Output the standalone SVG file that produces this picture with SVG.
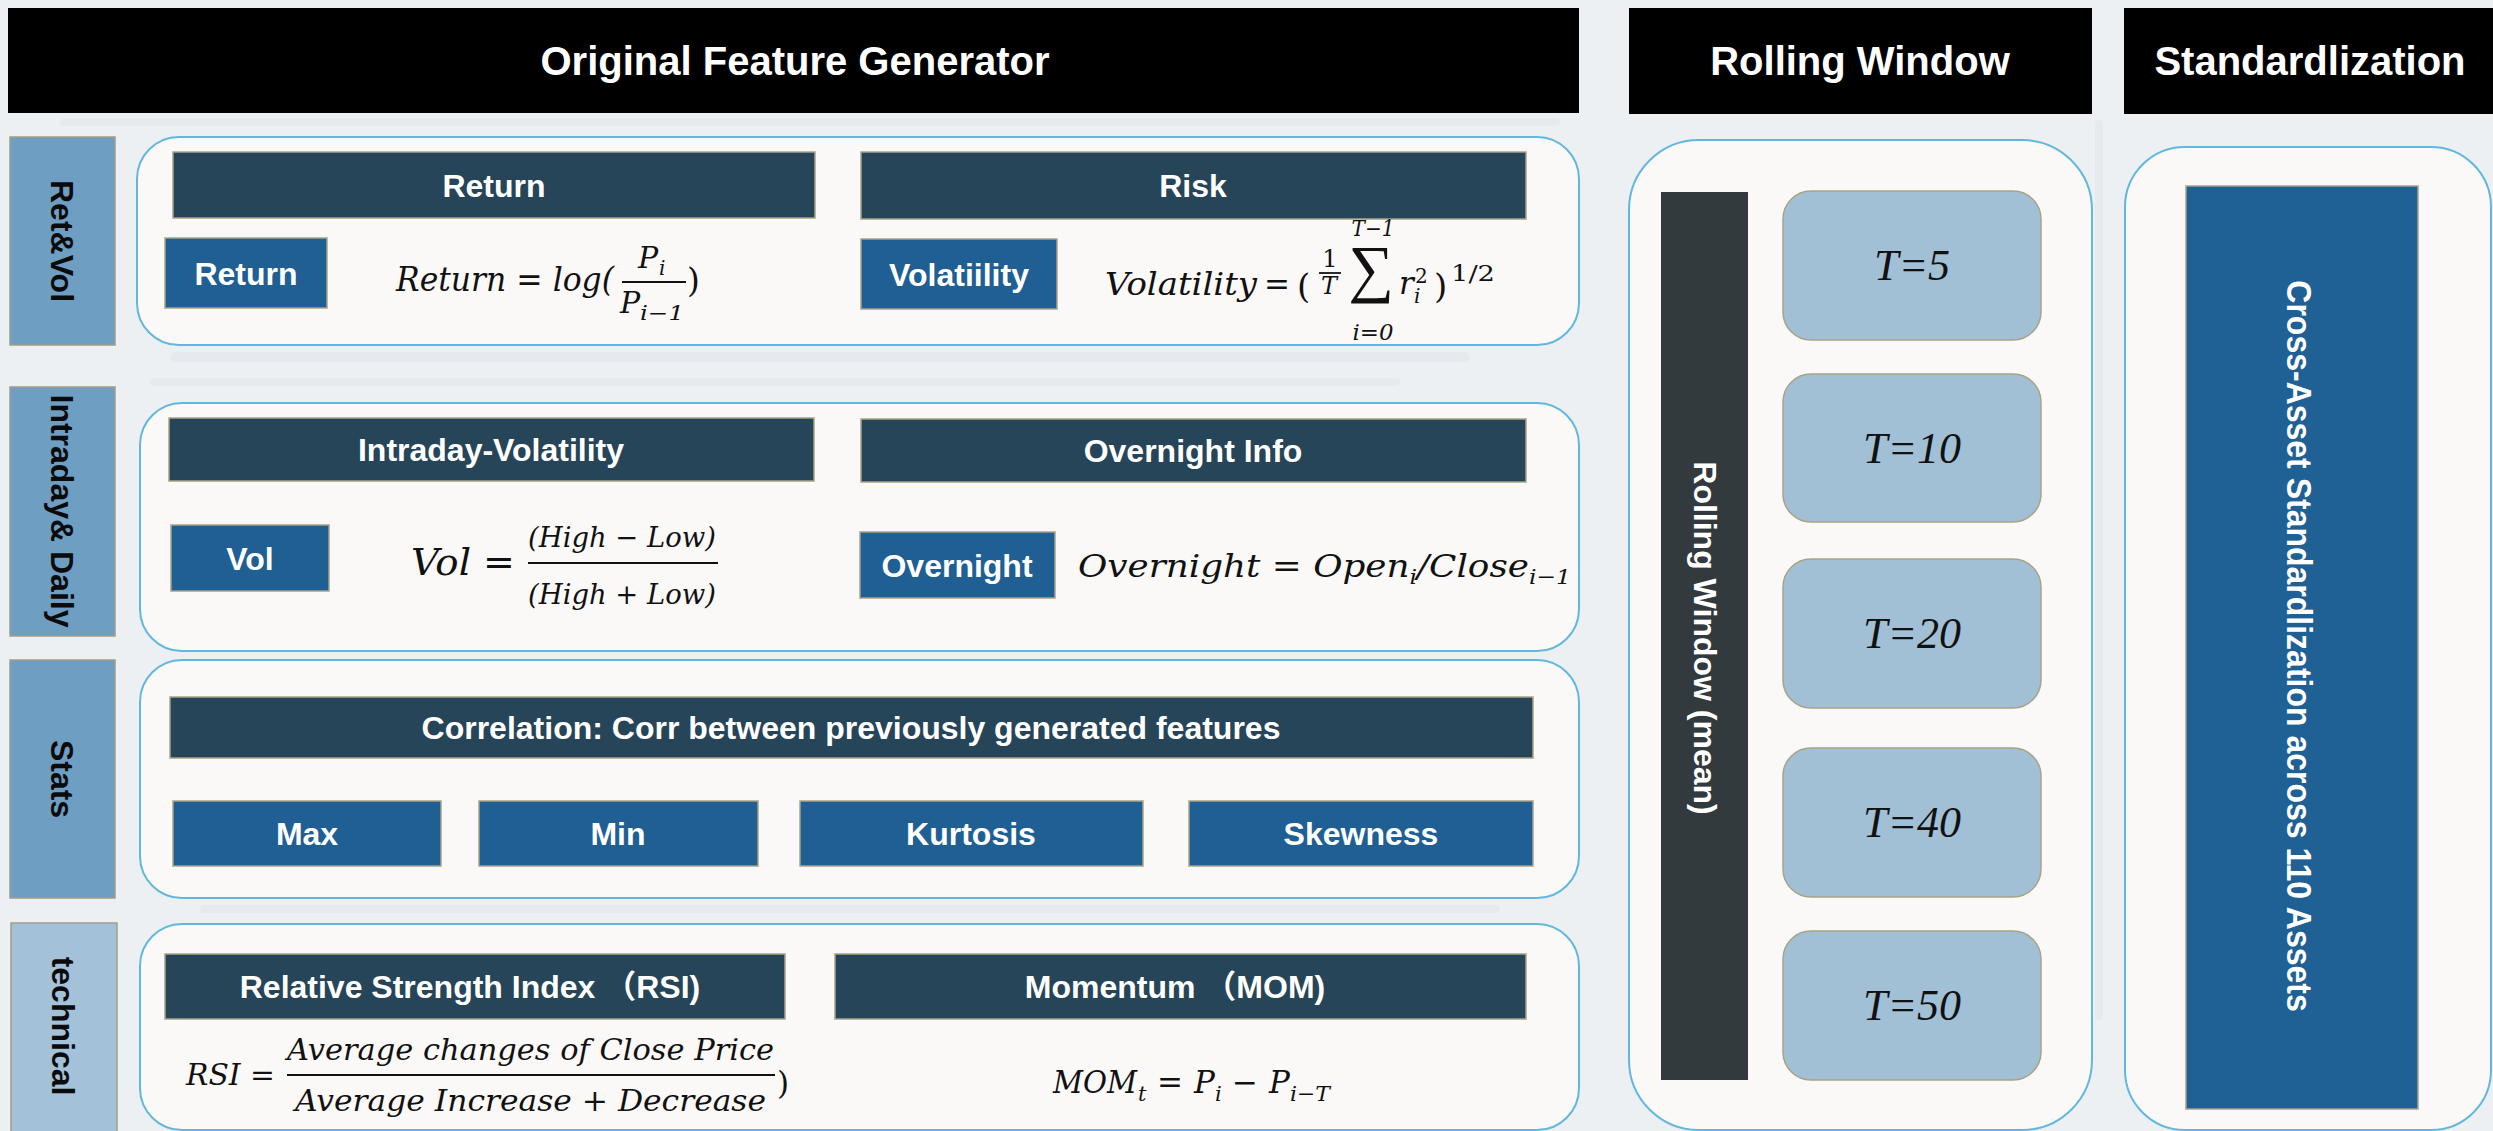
<svg xmlns="http://www.w3.org/2000/svg" width="2493" height="1131" viewBox="0 0 2493 1131">
<style>
.bg{fill:#EDF0F3}
.title{fill:#000}
.tt{font-family:"Liberation Sans",Arial,sans-serif;font-weight:bold;font-size:40px;fill:#fff;text-anchor:middle}
.cont{fill:#FBF9F8;stroke:#62B8DC;stroke-width:2}
.side{fill:#6E9EC2;stroke:#A39C88;stroke-width:1.5}
.side2{fill:#A3C1D8;stroke:#A39C88;stroke-width:1.5}
.st{font-family:"Liberation Sans",Arial,sans-serif;font-weight:bold;font-size:32px;fill:#0B0B0B;text-anchor:middle}
.hb{fill:#264559;stroke:#A8A288;stroke-width:1.5}
.bb{fill:#1F5F94;stroke:#A8A288;stroke-width:1.5}
.wt{font-family:"Liberation Sans","Noto Sans CJK SC",Arial,sans-serif;font-weight:bold;font-size:32px;fill:#fff;text-anchor:middle}
.m{font-family:"DejaVu Serif","Liberation Serif",serif;font-style:italic;fill:#111}
.mu{font-family:"DejaVu Serif","Liberation Serif",serif;fill:#111}
.ms{font-family:"Liberation Serif","Times New Roman",serif;fill:#111}
.fb{stroke:#111;stroke-width:2}
.tbox{fill:#A1C0D5;stroke:#A8A288;stroke-width:1.5}
.tl{font-family:"Liberation Serif","Times New Roman",serif;font-style:italic;font-size:44px;fill:#111;text-anchor:middle}
</style>
<rect class="bg" x="0" y="0" width="2493" height="1131"/>
<g opacity="0.3" fill="#D8DEE4">
<rect x="60" y="118" width="1500" height="8" rx="4"/>
<rect x="170" y="352" width="1300" height="10" rx="5"/>
<rect x="150" y="378" width="1250" height="8" rx="4"/>
<rect x="200" y="905" width="1300" height="8" rx="4"/>
<rect x="2095" y="120" width="8" height="900" rx="4"/>
</g>

<g id="header-original"><rect class="title" x="8" y="8" width="1571" height="105"/><text class="tt" x="795" y="75">Original Feature Generator</text></g>
<g id="header-rolling"><rect class="title" x="1629" y="8" width="463" height="106"/><text class="tt" x="1860" y="75">Rolling Window</text></g>
<g id="header-standard"><rect class="title" x="2124" y="8" width="369" height="106"/><text class="tt" x="2310" y="75">Standardlization</text></g>

<g id="side-retvol"><rect class="side" x="10" y="137" width="105" height="208"/><text class="st" transform="translate(62,241) rotate(90)" x="0" y="11.5">Ret&amp;Vol</text></g>
<g id="side-intraday"><rect class="side" x="10" y="387" width="105" height="249"/><text class="st" transform="translate(62,511) rotate(90)" x="0" y="11.5">Intraday&amp; Daily</text></g>
<g id="side-stats"><rect class="side" x="10" y="660" width="105" height="238"/><text class="st" transform="translate(62,779) rotate(90)" x="0" y="11.5">Stats</text></g>
<g id="side-technical"><rect class="side2" x="11" y="923" width="106" height="215"/><text class="st" transform="translate(63,1026) rotate(90)" x="0" y="11.5">technical</text></g>

<g id="row-retvol">
<rect class="cont" x="137" y="137" width="1442" height="208" rx="42"/>
<g id="hdr-return"><rect class="hb" x="173" y="152" width="642" height="66"/><text class="wt" x="494" y="197">Return</text></g>
<g id="hdr-risk"><rect class="hb" x="861" y="152" width="665" height="67"/><text class="wt" x="1193" y="197">Risk</text></g>
<g id="box-return"><rect class="bb" x="165" y="238" width="162" height="70"/><text class="wt" x="246" y="285">Return</text></g>
<g id="box-volatility"><rect class="bb" x="861" y="239" width="196" height="70"/><text class="wt" x="959" y="286">Volatiility</text></g>
<g id="f-return">
<text class="m" x="396" y="291" font-size="33" textLength="218" lengthAdjust="spacingAndGlyphs">Return = log(</text>
<text class="m" x="638" y="268" font-size="30">P</text><text class="m" x="659" y="275" font-size="20">i</text>
<line class="fb" x1="622" y1="282" x2="686" y2="282"/>
<text class="m" x="620" y="313" font-size="30">P</text><text class="m" x="640" y="320" font-size="20" textLength="44" lengthAdjust="spacingAndGlyphs">i−1</text>
<text class="mu" x="687" y="292" font-size="33">)</text>
</g>
<g id="f-volatility">
<text class="m" x="1105" y="295" font-size="31" textLength="152" lengthAdjust="spacingAndGlyphs">Volatility</text>
<text class="mu" x="1264" y="295" font-size="31">=</text>
<text class="mu" x="1297" y="298" font-size="34">(</text>
<text class="mu" x="1330" y="267" font-size="24" text-anchor="middle">1</text>
<line x1="1319" y1="273" x2="1341" y2="273" stroke="#111" stroke-width="1.8"/>
<text class="m" x="1329" y="294" font-size="24" text-anchor="middle">T</text>
<text class="ms" x="1371" y="290" font-size="64" text-anchor="middle">∑</text>
<text class="m" x="1373" y="236" font-size="22" text-anchor="middle" textLength="43" lengthAdjust="spacingAndGlyphs">T−1</text>
<text class="m" x="1373" y="340" font-size="22" text-anchor="middle" textLength="41" lengthAdjust="spacingAndGlyphs">i=0</text>
<text class="m" x="1399" y="294" font-size="31">r</text>
<text class="mu" x="1415" y="283" font-size="20">2</text>
<text class="m" x="1414" y="303" font-size="20">i</text>
<text class="mu" x="1434" y="298" font-size="34">)</text>
<text class="mu" x="1451" y="281" font-size="23" textLength="44" lengthAdjust="spacingAndGlyphs">1/2</text>
</g>
</g>

<g id="row-intraday">
<rect class="cont" x="140" y="403" width="1439" height="248" rx="42"/>
<g id="hdr-intraday"><rect class="hb" x="169" y="418" width="645" height="63"/><text class="wt" x="491" y="461">Intraday-Volatility</text></g>
<g id="hdr-overnight"><rect class="hb" x="861" y="419" width="665" height="63"/><text class="wt" x="1193" y="462">Overnight Info</text></g>
<g id="box-vol"><rect class="bb" x="171" y="525" width="158" height="66"/><text class="wt" x="250" y="570">Vol</text></g>
<g id="box-overnight"><rect class="bb" x="860" y="532" width="195" height="66"/><text class="wt" x="957" y="577">Overnight</text></g>
<g id="f-vol">
<text class="m" x="411" y="575" font-size="38" textLength="60" lengthAdjust="spacingAndGlyphs">Vol</text>
<text class="mu" x="483" y="575" font-size="38">=</text>
<text class="m" x="622" y="547" font-size="28" text-anchor="middle" textLength="188" lengthAdjust="spacingAndGlyphs">(High − Low)</text>
<line class="fb" x1="528" y1="563" x2="718" y2="563"/>
<text class="m" x="622" y="604" font-size="28" text-anchor="middle" textLength="188" lengthAdjust="spacingAndGlyphs">(High + Low)</text>
</g>
<g id="f-overnight">
<text class="m" x="1078" y="577" font-size="32" textLength="493" lengthAdjust="spacingAndGlyphs">Overnight = Open<tspan font-size="21" dy="7">i</tspan><tspan dy="-7">/Close</tspan><tspan font-size="21" dy="7">i−1</tspan></text>
</g>
</g>

<g id="row-stats">
<rect class="cont" x="140" y="660" width="1439" height="238" rx="42"/>
<g id="hdr-corr"><rect class="hb" x="170" y="697" width="1363" height="61"/><text class="wt" x="851" y="739">Correlation: Corr between previously generated features</text></g>
<g id="box-max"><rect class="bb" x="173" y="801" width="268" height="65"/><text class="wt" x="307" y="845">Max</text></g>
<g id="box-min"><rect class="bb" x="479" y="801" width="279" height="65"/><text class="wt" x="618" y="845">Min</text></g>
<g id="box-kurtosis"><rect class="bb" x="800" y="801" width="343" height="65"/><text class="wt" x="971" y="845">Kurtosis</text></g>
<g id="box-skewness"><rect class="bb" x="1189" y="801" width="344" height="65"/><text class="wt" x="1361" y="845">Skewness</text></g>
</g>

<g id="row-technical">
<rect class="cont" x="140" y="924" width="1439" height="206" rx="42"/>
<g id="hdr-rsi"><rect class="hb" x="165" y="954" width="620" height="65"/><text class="wt" x="470" y="998">Relative Strength Index （RSI)</text></g>
<g id="hdr-mom"><rect class="hb" x="835" y="954" width="691" height="65"/><text class="wt" x="1175" y="998">Momentum （MOM)</text></g>
<g id="f-rsi">
<text class="m" x="186" y="1085" font-size="29" textLength="89" lengthAdjust="spacingAndGlyphs">RSI =</text>
<text class="m" x="287" y="1060" font-size="30" textLength="487" lengthAdjust="spacingAndGlyphs">Average changes of Close Price</text>
<line class="fb" x1="287" y1="1075" x2="775" y2="1075"/>
<text class="m" x="295" y="1111" font-size="30" textLength="471" lengthAdjust="spacingAndGlyphs">Average Increase + Decrease</text>
<text class="mu" x="777" y="1094" font-size="31">)</text>
</g>
<g id="f-mom">
<text class="m" x="1053" y="1093" font-size="31" textLength="84" lengthAdjust="spacingAndGlyphs">MOM</text>
<text class="m" x="1138" y="1101" font-size="21">t</text>
<text class="mu" x="1157" y="1093" font-size="31">=</text>
<text class="m" x="1194" y="1093" font-size="31">P</text>
<text class="m" x="1215" y="1101" font-size="21">i</text>
<text class="mu" x="1232" y="1093" font-size="31">−</text>
<text class="m" x="1269" y="1093" font-size="31">P</text>
<text class="m" x="1290" y="1101" font-size="21" textLength="40" lengthAdjust="spacingAndGlyphs">i−T</text>
</g>
</g>

<g id="rolling-window">
<rect class="cont" x="1629" y="140" width="463" height="990" rx="70"/>
<g id="rw-mean"><rect x="1661" y="192" width="87" height="888" fill="#323A3E"/><text class="wt" transform="translate(1705,638) rotate(90)" x="0" y="11.5">Rolling Window (mean)</text></g>
<g id="t5"><rect class="tbox" x="1783" y="191" width="258" height="149" rx="28"/><text class="tl" x="1912" y="280">T=5</text></g>
<g id="t10"><rect class="tbox" x="1783" y="374" width="258" height="148" rx="28"/><text class="tl" x="1912" y="463">T=10</text></g>
<g id="t20"><rect class="tbox" x="1783" y="559" width="258" height="149" rx="28"/><text class="tl" x="1912" y="648">T=20</text></g>
<g id="t40"><rect class="tbox" x="1783" y="748" width="258" height="149" rx="28"/><text class="tl" x="1912" y="837">T=40</text></g>
<g id="t50"><rect class="tbox" x="1783" y="931" width="258" height="149" rx="28"/><text class="tl" x="1912" y="1020">T=50</text></g>
</g>

<g id="standardization">
<rect class="cont" x="2125" y="147" width="366" height="983" rx="60"/>
<g id="cross-asset"><rect x="2186" y="186" width="232" height="923" fill="#1F6095" stroke="#A8A288" stroke-width="1.5"/><text class="wt" font-size="32.5" transform="translate(2300,646) rotate(90) scale(1,1.12)" x="0" y="11.7">Cross-Asset Standardlization across 110 Assets</text></g>
</g>

<g id="connectors"/>
</svg>
